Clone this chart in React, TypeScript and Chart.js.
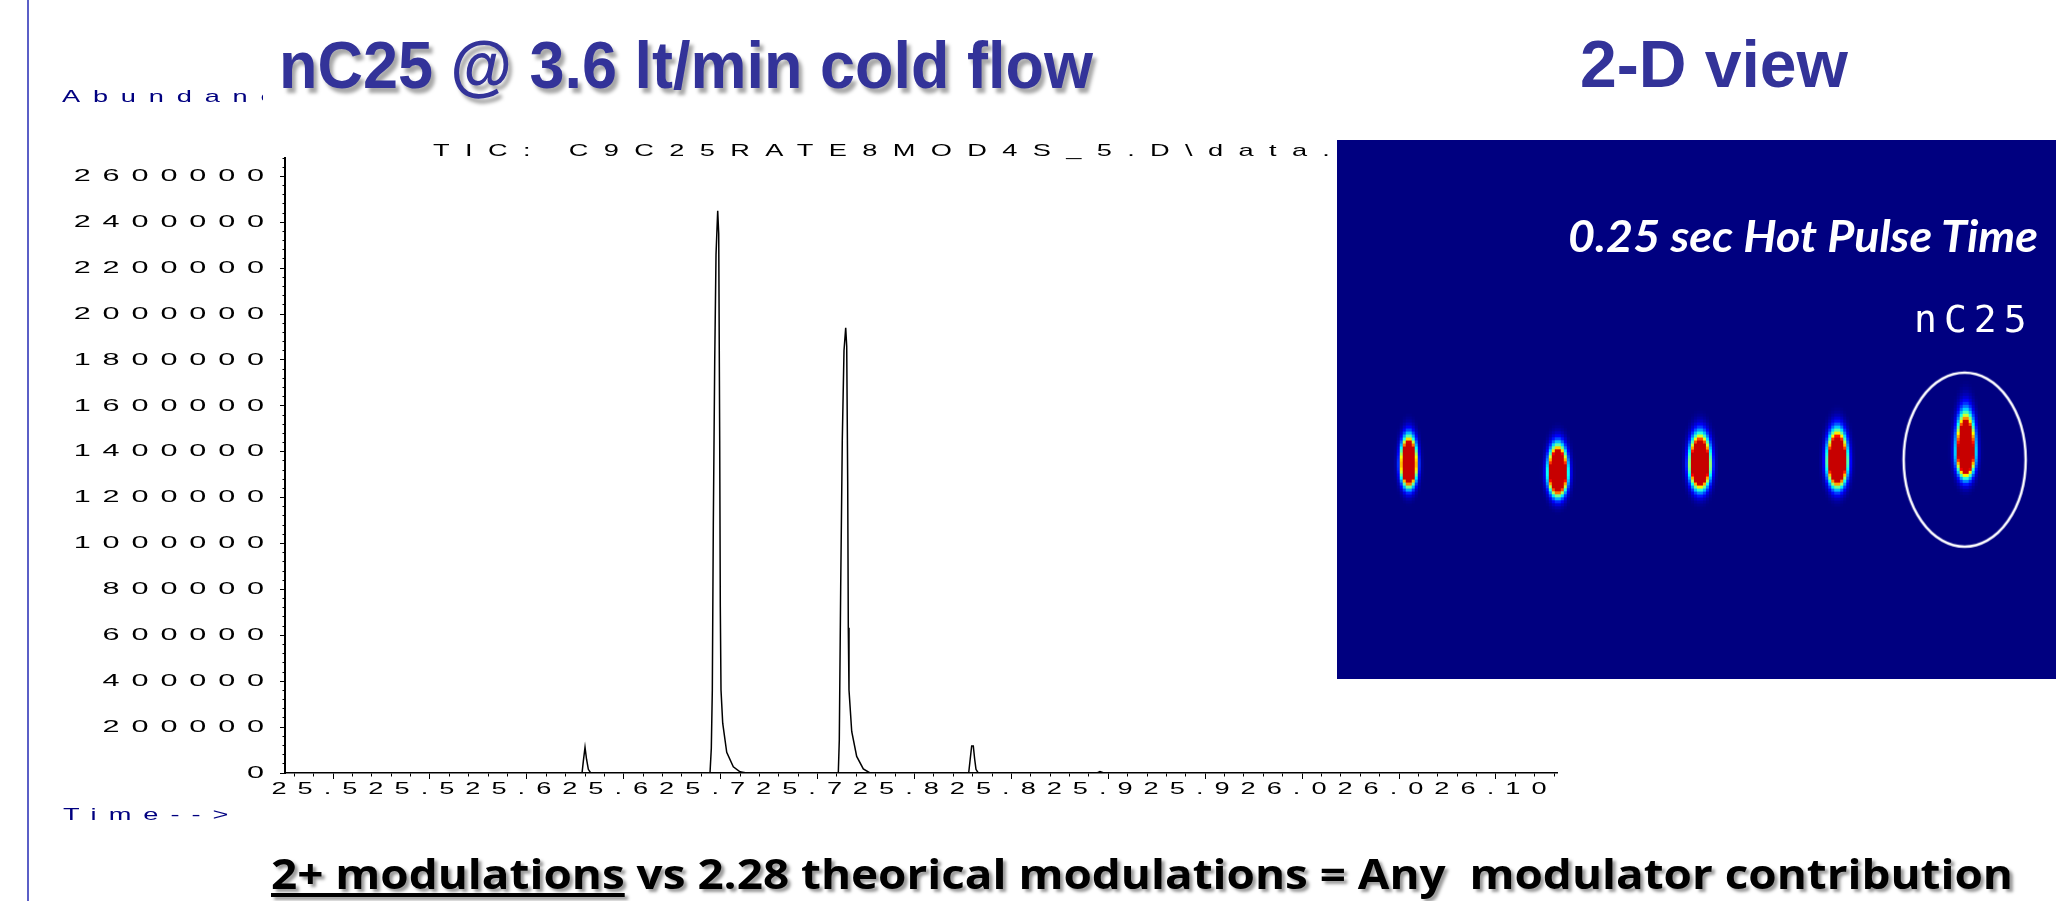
import React, { useEffect, useLayoutEffect, useRef } from 'react';
import { Chart, registerables } from 'chart.js';

Chart.register(...registerables);

// ---------------- 1D chromatogram (TIC) data ----------------
const retentionTime = [
  25.476,
  25.62846, 25.62913, 25.63, 25.63078, 25.63171, 25.63295,
  25.69449, 25.69516, 25.69568, 25.69619, 25.69692, 25.69759, 25.69846, 25.69898, 25.69949,
  25.6998, 25.70016, 25.70104, 25.70311, 25.70651, 25.70996, 25.71342,
  25.76068, 25.7612, 25.76192, 25.76274, 25.76362, 25.7645, 25.76502, 25.76553, 25.76584,
  25.7662, 25.7676, 25.77017, 25.77358, 25.77704,
  25.82795, 25.82873, 25.8295, 25.83033, 25.83105, 25.83172, 25.8329,
  25.89414, 25.89569, 25.89775,
  26.131,
];
const abundance = [
  0,
  0, 52000, 112000, 60000, 16000, 0,
  0, 108000, 362000, 1080000, 1800000, 2260000, 2450000, 2350000, 1450000,
  723000, 362000, 217000, 90000, 27000, 5000, 0,
  0, 145000, 814000, 1450000, 1840000, 1940000, 1860000, 1270000, 633000,
  362000, 181000, 72000, 18000, 0,
  0, 60000, 118000, 118000, 60000, 16000, 0,
  0, 6000, 0,
  0,
];
const xTickLabels = ['25.50', '25.55', '25.60', '25.65', '25.70', '25.75', '25.80', '25.85', '25.90', '25.95', '26.00', '26.05', '26.10'];
const yTickLabels = ['0', '200000', '400000', '600000', '800000', '1000000', '1200000', '1400000', '1600000', '1800000', '2000000', '2200000', '2400000', '2600000'];
const timeMin = 25.4752;
const timeMax = 26.1315;
const abundanceMax = 2680000;

// ---------------- 2D view data (first / second dimension positions of the nC25 slices) ----------------
const spotTime1D = [6.6, 21.8, 36.3, 50.3, 63.4];
const spotTime2D = [2.13, 2.04, 2.13, 2.16, 2.25];
const nc25Time1D = [63.3];
const nc25Time2D = [2.18];
const view1DMax = 71.9;
const view2DMax = 5.39;

// sprite styles (not data)
const spotSigmaX = [4.4, 5.2, 5.6, 5.4, 5.0];
const spotSigmaUp = [15, 15, 16, 16.5, 21];
const spotSigmaDown = [12, 12, 13, 13.5, 13];

function jet(v: number): number[] {
  const c = (x: number) => Math.max(0, Math.min(1, x));
  return [c(1.5 - Math.abs(4 * v - 3)), c(1.5 - Math.abs(4 * v - 2)), c(1.5 - Math.abs(4 * v - 1))].map((x) => Math.round(x * 255));
}

function spotSprite(sx: number, su: number, sd: number): HTMLCanvasElement {
  const cell = 3;
  const halfW = Math.ceil((4.2 * sx) / cell) * cell + cell;
  const halfH = Math.ceil((4.2 * Math.max(su, sd)) / cell) * cell + cell;
  const c = document.createElement('canvas');
  c.width = halfW * 2;
  c.height = halfH * 2;
  const g = c.getContext('2d')!;
  for (let py = 0; py < c.height; py += cell) {
    for (let px = 0; px < c.width; px += cell) {
      const dx = (px + cell / 2 - halfW) / sx;
      const oy = py + cell / 2 - halfH;
      const dy = oy / (oy < 0 ? su : sd);
      const e = 3 * Math.exp(-(dx * dx + dy * dy) / 2);
      const v = Math.max(0, Math.min(0.93, e - 0.006));
      const [r, gg, b] = jet(v);
      g.fillStyle = `rgb(${r},${gg},${b})`;
      g.fillRect(px, py, cell, cell);
    }
  }
  return c;
}

function ellipseSprite(): HTMLCanvasElement {
  const c = document.createElement('canvas');
  c.width = 132;
  c.height = 182;
  const g = c.getContext('2d')!;
  g.strokeStyle = '#ffffff';
  g.lineWidth = 2.5;
  g.beginPath();
  g.ellipse(66, 91, 61, 87, 0, 0, Math.PI * 2);
  g.stroke();
  return c;
}

// Draws tick labels letter-spaced and stretched horizontally, like the instrument printout.
function stretched(ls: string, sx: number) {
  return {
    beforeUpdate(scale: any) {
      scale.ctx.letterSpacing = ls;
    },
    afterUpdate(scale: any) {
      scale.ctx.letterSpacing = '0px';
      if (!scale.__stretched) {
        const orig = scale.drawLabels;
        scale.drawLabels = function (area: any) {
          const c = this.ctx;
          const items = this.getLabelItems(area) || [];
          const saved = items.map((it: any) => {
            const o = it.options || it;
            const t = o.translation;
            if (!t) return null;
            const copy = [t[0], t[1]];
            o.translation = [t[0] / sx, t[1]];
            return copy;
          });
          c.save();
          c.letterSpacing = ls;
          c.scale(sx, 1);
          orig.call(this, area);
          c.restore();
          items.forEach((it: any, i: number) => {
            const o = it.options || it;
            if (saved[i]) o.translation = saved[i];
          });
        };
        scale.__stretched = true;
      }
    },
  };
}

const isMajorX = (v: number) => Math.abs(v * 20 - Math.round(v * 20)) < 1e-6;
const isMajorY = (v: number) => Math.abs(v / 200000 - Math.round(v / 200000)) < 1e-9;

function Chromatogram() {
  const ref = useRef<HTMLCanvasElement>(null);
  useEffect(() => {
    const canvas = ref.current!;
    const points = retentionTime.map((t, i) => ({ x: t, y: abundance[i] }));
    const tickFont = { family: 'Liberation Sans, Arial, sans-serif', size: 17 };
    const chart = new Chart(canvas, {
      type: 'line',
      data: {
        datasets: [
          {
            data: points,
            borderColor: '#000000',
            borderWidth: 1.5,
            pointRadius: 0,
            tension: 0,
            fill: false,
          },
        ],
      },
      options: {
        responsive: false,
        animation: false,
        events: [],
        layout: { padding: { top: 158, right: 43, bottom: 17, left: 0 } },
        plugins: { legend: { display: false }, tooltip: { enabled: false }, title: { display: false } },
        scales: {
          x: {
            type: 'linear',
            min: timeMin,
            max: timeMax,
            ...stretched('6.9px', 1.6),
            afterFit: (s: any) => {
              s.height = 40;
            },
            grid: {
              drawOnChartArea: false,
              drawTicks: true,
              tickLength: 8,
              tickWidth: 1,
              tickColor: '#000000',
              tickBorderDash: (ctx: any) => (ctx.tick && isMajorX(ctx.tick.value) ? [] : [3, 50]),
            },
            border: { display: true, color: '#000000', width: 1.5 },
            ticks: {
              stepSize: 0.01,
              includeBounds: false,
              autoSkip: false,
              maxRotation: 0,
              minRotation: 0,
              maxTicksLimit: 1000,
              padding: -2,
              color: '#000000',
              font: tickFont,
              showLabelBackdrop: true,
              backdropColor: '#ffffff',
              backdropPadding: 0,
              callback: (v: any) => {
                const n = Number(v);
                if (!isMajorX(n)) return '';
                const idx = Math.round((n - 25.5) * 20);
                return xTickLabels[idx] ?? '';
              },
            },
          } as any,
          y: {
            type: 'linear',
            min: 0,
            max: abundanceMax,
            ...stretched('6.6px', 1.8),
            afterFit: (s: any) => {
              s.width = 285;
            },
            grid: {
              drawOnChartArea: false,
              drawTicks: true,
              tickLength: 5,
              tickWidth: 1,
              tickColor: '#000000',
              tickBorderDash: (ctx: any) => (ctx.tick && isMajorY(ctx.tick.value) ? [] : [0, 2.5, 20, 0]),
            },
            border: { display: true, color: '#000000', width: 2 },
            ticks: {
              stepSize: 40000,
              autoSkip: false,
              maxTicksLimit: 1000,
              padding: 4,
              color: '#000000',
              font: tickFont,
              callback: (v: any) => {
                const n = Number(v);
                if (!isMajorY(n)) return '';
                return yTickLabels[Math.round(n / 200000)] ?? '';
              },
            },
          } as any,
        },
      },
    });
    return () => chart.destroy();
  }, []);
  return (
    <canvas
      ref={ref}
      width={1600}
      height={830}
      style={{ position: 'absolute', left: 0, top: 0, width: 1600, height: 830, zIndex: 0 }}
    />
  );
}

function TwoDView() {
  const ref = useRef<HTMLCanvasElement>(null);
  useEffect(() => {
    const canvas = ref.current!;
    const sprites = spotTime1D.map((_, i) => spotSprite(spotSigmaX[i], spotSigmaUp[i], spotSigmaDown[i]));
    const ring = ellipseSprite();
    const chart = new Chart(canvas, {
      type: 'scatter',
      data: {
        datasets: [
          {
            data: spotTime1D.map((x, i) => ({ x, y: spotTime2D[i] })),
            pointStyle: ((ctx: any) => sprites[ctx.dataIndex]) as any,
            pointRadius: 6,
            order: 2,
          },
          {
            data: nc25Time1D.map((x, i) => ({ x, y: nc25Time2D[i] })),
            pointStyle: ring as any,
            pointRadius: 6,
            order: 1,
          },
        ],
      },
      options: {
        responsive: false,
        animation: false,
        events: [],
        layout: { padding: 0 },
        plugins: { legend: { display: false }, tooltip: { enabled: false } },
        scales: {
          x: { type: 'linear', display: false, min: 0, max: view1DMax },
          y: { type: 'linear', display: false, min: 0, max: view2DMax },
        },
      },
      plugins: [
        {
          id: 'navyBackground',
          beforeDraw(c: any) {
            const g = c.ctx;
            g.save();
            g.fillStyle = 'rgb(0,0,128)';
            g.fillRect(0, 0, c.width, c.height);
            g.restore();
          },
        },
      ],
    });
    return () => chart.destroy();
  }, []);
  return (
    <canvas
      ref={ref}
      width={719}
      height={539}
      style={{ position: 'absolute', left: 1337, top: 140, width: 719, height: 539, zIndex: 2 }}
    />
  );
}

function Fit(props: { width: number; style: React.CSSProperties; children: React.ReactNode }) {
  const ref = useRef<HTMLSpanElement>(null);
  useLayoutEffect(() => {
    const el = ref.current;
    if (!el) return;
    const apply = () => {
      el.style.transform = 'none';
      const w = el.getBoundingClientRect().width;
      if (w > 0) el.style.transform = `scaleX(${props.width / w})`;
    };
    apply();
    (document as any).fonts?.ready?.then(apply);
  }, [props.width]);
  return (
    <span
      ref={ref}
      style={{
        position: 'absolute',
        display: 'inline-block',
        whiteSpace: 'pre',
        lineHeight: 1,
        transformOrigin: '0 0',
        ...props.style,
      }}
    >
      {props.children}
    </span>
  );
}

export default function App() {
  useLayoutEffect(() => {
    document.body.style.margin = '0';
  }, []);
  const small: React.CSSProperties = {
    position: 'absolute',
    fontFamily: 'Liberation Sans, Arial, sans-serif',
    fontSize: 17,
    lineHeight: 1,
    whiteSpace: 'nowrap',
    transform: 'scaleX(1.6)',
    transformOrigin: '0 0',
  };
  return (
    <div
      style={{
        position: 'relative',
        width: 2056,
        height: 901,
        background: '#ffffff',
        overflow: 'hidden',
        fontFamily: 'Liberation Sans, Arial, sans-serif',
      }}
    >
      <div style={{ position: 'absolute', left: 27, top: 0, width: 2, height: 901, background: '#5b5fc7' }} />

      <Chromatogram />

      <div style={{ position: 'absolute', left: 62, top: 86, width: 201, height: 22, overflow: 'hidden', zIndex: 1 }}>
        <span style={{ ...small, left: 0, top: 2, letterSpacing: '8px', color: '#000080' }}>Abundance</span>
      </div>
      <div style={{ ...small, left: 433, top: 142, letterSpacing: '9.6px', color: '#000000', zIndex: 1 }}>
        TIC: C9C25RATE8MOD4S_5.D\data.ms
      </div>
      <div style={{ ...small, left: 63, top: 806, letterSpacing: '7.5px', color: '#000080', zIndex: 1 }}>
        Time--&gt;
      </div>

      <TwoDView />

      <Fit
        width={814}
        style={{
          left: 279,
          top: 32,
          fontFamily: 'Liberation Sans, Arial, sans-serif',
          fontWeight: 700,
          fontSize: 66,
          color: '#333399',
          textShadow: '4px 5px 4px rgba(0,0,0,0.35)',
          zIndex: 3,
        }}
      >
        nC25 @ 3.6 lt/min cold flow
      </Fit>
      <Fit
        width={268}
        style={{
          left: 1580,
          top: 31,
          fontFamily: 'Liberation Sans, Arial, sans-serif',
          fontWeight: 700,
          fontSize: 66,
          color: '#333399',
          zIndex: 3,
        }}
      >
        2-D view
      </Fit>
      <Fit
        width={470}
        style={{
          left: 1568,
          top: 214,
          fontFamily: 'Lato, Open Sans, sans-serif',
          fontWeight: 700,
          fontStyle: 'italic',
          fontSize: 43,
          color: '#ffffff',
          zIndex: 3,
        }}
      >
        0.25 sec Hot Pulse Time
      </Fit>
      <div
        style={{
          position: 'absolute',
          left: 1914,
          top: 300,
          fontFamily: 'DejaVu Sans Mono, Liberation Mono, monospace',
          fontSize: 38,
          lineHeight: 1,
          letterSpacing: '7px',
          color: '#ffffff',
          zIndex: 3,
        }}
      >
        nC25
      </div>
      <Fit
        width={1742}
        style={{
          left: 271,
          top: 852,
          fontFamily: 'Open Sans, Lato, sans-serif',
          fontWeight: 700,
          fontSize: 42,
          color: '#000000',
          textShadow: '3px 3px 3px rgba(0,0,0,0.4)',
          zIndex: 3,
        }}
      >
        <span style={{ textDecoration: 'underline', textDecorationThickness: '4px', textUnderlineOffset: '4px' }}>2+ modulations</span>
        {' vs 2.28 theorical modulations = Any  modulator contribution'}
      </Fit>
    </div>
  );
}
